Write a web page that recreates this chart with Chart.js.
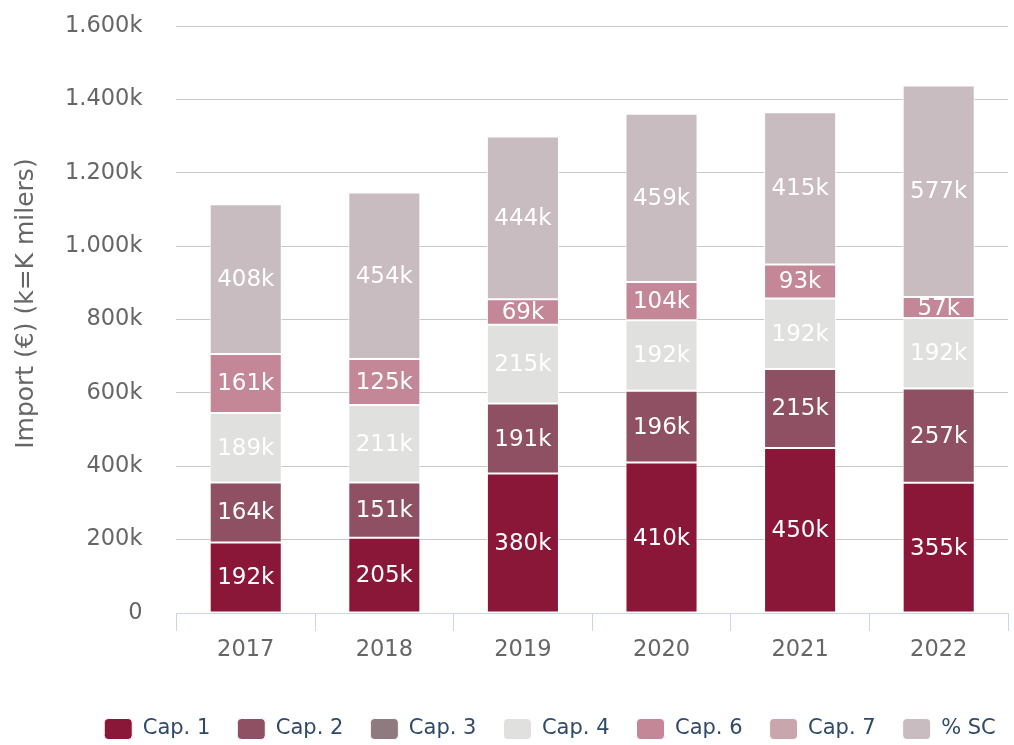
<!DOCTYPE html>
<html>
<head>
<meta charset="utf-8">
<script src="https://cdn.jsdelivr.net/npm/chart.js@4.4.1/dist/chart.umd.min.js"></script>
<style>
  html, body { margin: 0; padding: 0; background: #fff; }
  #wrap { width: 1014px; height: 745px; }
</style>
</head>
<body>
<div id="wrap"><canvas id="myChart" width="1014" height="745"></canvas></div>
<script>
// values in thousands of euros (k)
const years = ['2017', '2018', '2019', '2020', '2021', '2022'];
const cap1 = [192, 205, 380, 410, 450, 355];
const cap2 = [164, 151, 191, 196, 215, 257];
const cap3 = [0, 0, 0, 0, 0, 0];
const cap4 = [189, 211, 215, 192, 192, 192];
const cap6 = [161, 125, 69, 104, 93, 57];
const cap7 = [0, 0, 0, 0, 0, 0];
const pctSC = [408, 454, 444, 459, 415, 577];

const FONT = "'DejaVu Sans', Verdana, sans-serif";

function fmtK(v) {
    if (v === 0) return '0';
    return String(v).replace(/\B(?=(\d{3})+(?!\d))/g, '.') + 'k';
}

// draw the value inside each segment (no datalabels plugin here)
const barLabels = {
    id: 'barLabels',
    afterDatasetsDraw(chart) {
        const ctx = chart.ctx;
        chart.data.datasets.forEach((ds, i) => {
            const meta = chart.getDatasetMeta(i);
            if (meta.hidden) return;
            meta.data.forEach((bar, j) => {
                const v = ds.data[j];
                if (!v) return;
                const top = Math.min(bar.y, bar.base);
                const h = Math.abs(bar.base - bar.y);
                ctx.save();
                ctx.beginPath();
                ctx.rect(bar.x - bar.width / 2, top, bar.width, h);
                ctx.clip();
                ctx.fillStyle = '#ffffff';
                ctx.font = '23px ' + FONT;
                ctx.textAlign = 'center';
                ctx.textBaseline = 'middle';
                ctx.fillText(v + 'k', bar.x, top + h / 2 + 1);
                ctx.restore();
            });
        });
    }
};

// legend sits a bit right of centre in the original
const legendShift = {
    id: 'legendShift',
    afterLayout(chart) {
        chart.legend.left += 44;
        chart.legend.right += 44;
    }
};

function makeSet(label, data, color) {
    return {
        label: label,
        data: data,
        backgroundColor: color,
        borderColor: '#ffffff',
        borderWidth: 1,
        borderSkipped: false,
        categoryPercentage: 1,
        barPercentage: 0.52
    };
}

const ctx = document.getElementById('myChart').getContext('2d');
new Chart(ctx, {
    type: 'bar',
    data: {
        labels: years,
        datasets: [
            makeSet('Cap. 1', cap1, '#8a1738'),
            makeSet('Cap. 2', cap2, '#8f5063'),
            makeSet('Cap. 3', cap3, '#8f7a80'),
            makeSet('Cap. 4', cap4, '#e0e0df'),
            makeSet('Cap. 6', cap6, '#c48798'),
            makeSet('Cap. 7', cap7, '#c9a5ae'),
            makeSet('% SC', pctSC, '#c8bcc1')
        ]
    },
    options: {
        responsive: false,
        animation: false,
        layout: {
            padding: { top: 26, right: 6, bottom: -4.5, left: 4 }
        },
        plugins: {
            legend: {
                position: 'bottom',
                labels: {
                    boxWidth: 28,
                    boxHeight: 21,
                    useBorderRadius: true,
                    borderRadius: 4,
                    padding: 27,
                    color: '#2f4a68',
                    font: { family: FONT, size: 21 }
                }
            },
            tooltip: { enabled: false },
            title: { display: false }
        },
        scales: {
            x: {
                stacked: true,
                grid: {
                    display: true,
                    drawOnChartArea: false,
                    drawTicks: true,
                    tickLength: 18,
                    color: '#ccd6eb'
                },
                border: { display: true, color: '#ccd6eb' },
                ticks: {
                    color: '#666666',
                    padding: 6,
                    font: { family: FONT, size: 22.5 }
                },
                afterFit: function(scale) {
                    scale.height = 78.5;
                }
            },
            y: {
                stacked: true,
                min: 0,
                max: 1600,
                ticks: {
                    stepSize: 200,
                    color: '#666666',
                    padding: 0,
                    font: { family: FONT, size: 22.5 },
                    callback: value => fmtK(value)
                },
                grid: {
                    color: '#c8c8c8',
                    lineWidth: 1,
                    drawTicks: true,
                    tickLength: 34,
                    tickColor: 'rgba(0,0,0,0)'
                },
                border: { display: false },
                title: {
                    display: true,
                    // leading spaces lift the title a little, as in the original
                    text: '\u00a0\u00a0\u00a0\u00a0Import (€) (k=K milers)',
                    color: '#666666',
                    padding: { top: 7, bottom: 24 },
                    font: { family: FONT, size: 25 }
                }
            }
        }
    },
    plugins: [barLabels, legendShift]
});
</script>
</body>
</html>
